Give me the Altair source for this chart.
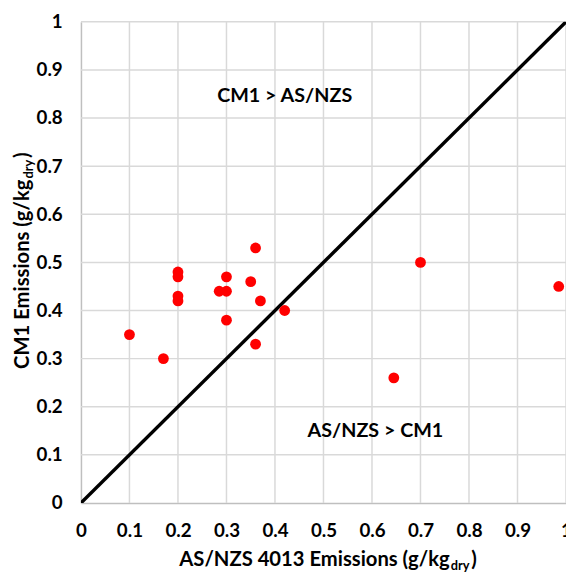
import altair as alt
import pandas as pd

# AS/NZS 4013 emissions (x) vs CM1 emissions (y), g/kg dry
as_nzs = [0.10, 0.17, 0.20, 0.20, 0.20, 0.20, 0.285, 0.30, 0.30, 0.30,
          0.35, 0.36, 0.37, 0.36, 0.42, 0.645, 0.70, 0.985]
cm1 = [0.35, 0.30, 0.48, 0.47, 0.43, 0.42, 0.44, 0.44, 0.47, 0.38,
       0.46, 0.53, 0.42, 0.33, 0.40, 0.26, 0.50, 0.45]

parity_x = [0, 1]
parity_y = [0, 1]

tick_values = [0, 0.1, 0.2, 0.3, 0.4, 0.5, 0.6, 0.7, 0.8, 0.9, 1]

note_text = ["CM1 > AS/NZS", "AS/NZS > CM1"]
note_x = [0.42, 0.607]
note_y = [0.846, 0.15]

x_title = ["AS/NZS 4013 Emissions (g/kg", "dry", ")"]
y_title = ["CM1 Emissions (g/kg", "dry", ")"]

FONT = "Lato"
W, H = 492, 488
TFS = 20.5
GRID = "#d9d9d9"

pts = pd.DataFrame({"x": as_nzs, "y": cm1})
line_df = pd.DataFrame({"x": parity_x, "y": parity_y})
notes_df = pd.DataFrame({"x": note_x, "y": note_y, "t": note_text})
grid_df = pd.DataFrame({"v": tick_values[1:]})

xs = alt.Scale(domain=[0, 1], nice=False, zero=False)
ys = alt.Scale(domain=[0, 1], nice=False, zero=False)

xaxis = alt.Axis(values=tick_values, format="~g", title="", grid=False, ticks=False,
                 labelPadding=19, labelFlush=False)
yaxis = alt.Axis(values=tick_values, format="~g", title="", grid=False, ticks=False,
                 labelPadding=19)

vgrid = alt.Chart(grid_df).mark_rule(color=GRID, strokeWidth=1.5).encode(
    x=alt.X("v:Q", scale=xs, axis=xaxis),
)
hgrid = alt.Chart(grid_df).mark_rule(color=GRID, strokeWidth=1.5).encode(
    y=alt.Y("v:Q", scale=ys, axis=yaxis),
)

line = alt.Chart(line_df).mark_line(color="black", strokeWidth=3.5, clip=True).encode(
    x=alt.X("x:Q", scale=xs, axis=xaxis),
    y=alt.Y("y:Q", scale=ys, axis=yaxis),
)

points = alt.Chart(pts).mark_circle(color="#ff0000", opacity=1, size=120).encode(
    x=alt.X("x:Q", scale=xs, axis=xaxis),
    y=alt.Y("y:Q", scale=ys, axis=yaxis),
)

notes = alt.Chart(notes_df).mark_text(font=FONT, fontWeight="bold", fontSize=20,
                                      color="black", align="center", baseline="middle").encode(
    x=alt.X("x:Q", scale=xs, axis=xaxis),
    y=alt.Y("y:Q", scale=ys, axis=yaxis),
    text="t:N",
)

def txt(s, **kw):
    return alt.Chart(pd.DataFrame({"t": [s]})).mark_text(
        font=FONT, fontWeight="bold", color="black", **kw
    ).encode(text="t:N")

xt_end = 374
xt_y = H + 58
xt1 = txt(x_title[0], fontSize=TFS, align="right", baseline="middle").encode(
    x=alt.value(xt_end), y=alt.value(xt_y))
xt2 = txt(x_title[1], fontSize=13, align="left", baseline="middle", dy=6).encode(
    x=alt.value(xt_end + 1), y=alt.value(xt_y))
xt3 = txt(x_title[2], fontSize=TFS, align="left", baseline="middle").encode(
    x=alt.value(xt_end + 22), y=alt.value(xt_y))

yt_end = 160
yt_x = -59
yt1 = txt(y_title[0], fontSize=TFS, align="right", baseline="middle", angle=270).encode(
    x=alt.value(yt_x), y=alt.value(yt_end))
yt2 = txt(y_title[1], fontSize=13, align="left", baseline="middle", angle=270, dy=6).encode(
    x=alt.value(yt_x), y=alt.value(yt_end - 1))
yt3 = txt(y_title[2], fontSize=TFS, align="left", baseline="middle", angle=270).encode(
    x=alt.value(yt_x), y=alt.value(yt_end - 22))

chart = alt.layer(vgrid, hgrid, line, points, notes, xt1, xt2, xt3, yt1, yt2, yt3).properties(
    width=W, height=H,
    autosize=alt.AutoSizeParams(type="none"),
    padding={"left": 74, "top": 10, "right": 0, "bottom": 66},
    background="white",
).configure_view(stroke=None).configure_axis(
    labelFont=FONT, labelFontWeight="bold", labelFontSize=19, labelColor="black",
    domainColor="#bfbfbf", domainWidth=1.5,
)

chart.save("out.html", embed_options={"renderer": "svg", "actions": False})
